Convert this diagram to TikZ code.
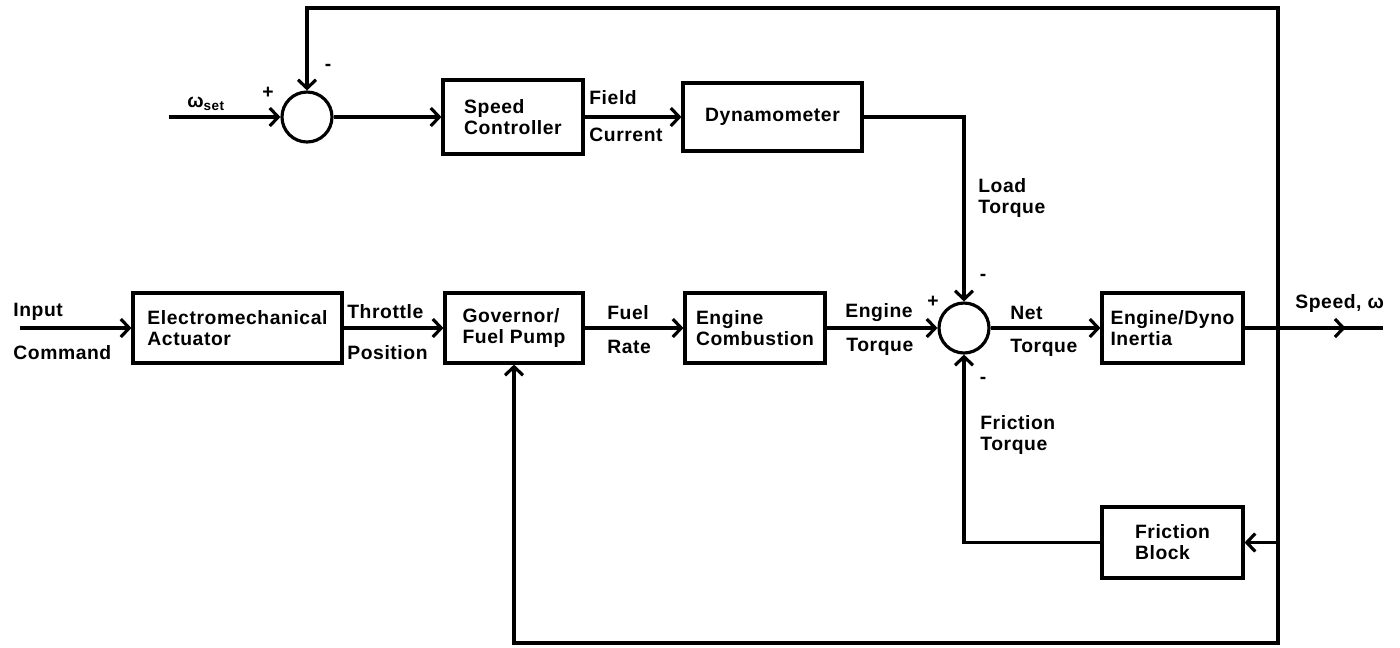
\documentclass[tikz,border=0pt]{standalone}
\usepackage{fontspec}
\setmainfont{Liberation Sans}[LetterSpace=3]
\usetikzlibrary{positioning,arrows.meta,decorations.markings}

\begin{document}
\begin{tikzpicture}[x=0.02cm, y=-0.02cm,
        font=\fontsize{11}{12}\selectfont\bfseries,
        blk/.style={draw, line width=1.8pt, align=left, inner sep=1pt, minimum height=1.4cm},
        sum/.style={draw, circle, line width=1.8pt, minimum size=1cm, inner sep=0pt},
        sig/.style={line width=1.8pt, line join=miter, -{Straight Barb[length=1.7mm, width=3.6mm]}},
        wire/.style={line width=1.8pt},
        midarrow/.style={postaction={decorate, decoration={markings,
            mark=at position 0.73 with {\arrow{Straight Barb[length=1.7mm, width=3.6mm]}}}}},
        lbl/.style={anchor=west, align=left, inner sep=0pt},
        sign/.style={inner sep=0pt}]
      \useasboundingbox (0,0) rectangle (1400,647);
      % upper loop
      \node[sum] (sum1) at (307,117) {};
      \node[blk, minimum width=2.8cm, minimum height=1.48cm] (spd) at (513,117) {Speed\\Controller};
      \node[blk, minimum width=3.58cm, minimum height=1.36cm] (dyno) at (772.5,117) {Dynamometer};
      % main path
      \node[blk, minimum width=4.18cm] (act) at (237.5,328) {Electromechanical\\Actuator};
      \node[blk, minimum width=2.76cm] (gov) at (514,328) {Governor/\\Fuel Pump};
      \node[blk, minimum width=2.8cm] (comb) at (755,328) {Engine\\Combustion};
      \node[sum] (sum2) at (964,328) {};
      \node[blk, minimum width=2.82cm] (inert) at (1172.5,328) {Engine/Dyno\\Inertia};
      \node[blk, minimum width=2.82cm, minimum height=1.42cm] (fric) at (1172.5,542.5) {Friction\\Block};
      % free ends and corners
      \coordinate (wset) at (169,117);
      \coordinate (inp) at (20,328);
      \coordinate (tap) at (1278,328);
      \coordinate (tr) at (1278,8);
      \coordinate (br) at (1278,643);
      \coordinate (out) at (1383,328);
      % signals
      \draw[sig] (wset) -- (sum1);
      \draw[sig] (sum1) -- (spd);
      \draw[sig] (spd) -- (dyno);
      \draw[sig] (dyno) -| (sum2);
      \draw[sig] (inp) -- (act);
      \draw[sig] (act) -- (gov);
      \draw[sig] (gov) -- (comb);
      \draw[sig] (comb) -- (sum2);
      \draw[sig] (sum2) -- (inert);
      \draw[wire, midarrow] (inert) -- (out);
      \draw[sig] (tap) -- (tr) -| (sum1);
      \draw[sig] (tap) -- (br) -| (gov);
      \draw[sig] (tap) |- (fric);
      \draw[sig] (fric) -| (sum2);
      % labels
      \node[lbl] (wsetl) at (187,104) {ω\textsubscript{set}};
      \node[lbl] (fieldl) at (589,98) {Field};
      \node[lbl] (currl) at (589,135) {Current};
      \node[lbl] (loadl) at (978,198) {Load\\Torque};
      \node[lbl] (inpl) at (13,312) {Input};
      \node[lbl] (cmdl) at (13,353) {Command};
      \node[lbl] (thrl) at (347,312) {Throttle};
      \node[lbl] (posl) at (347,353) {Position};
      \node[lbl] (fuell) at (607,313) {Fuel};
      \node[lbl] (ratel) at (607,347) {Rate};
      \node[lbl] (engl) at (845,313) {Engine};
      \node[lbl] (etql) at (846,347) {Torque};
      \node[lbl] (netl) at (1010,313) {Net};
      \node[lbl] (ntql) at (1010,348) {Torque};
      \node[lbl] (speedl) at (1295,303) {Speed, ω};
      \node[lbl] (frtql) at (980,435) {Friction\\Torque};
      \foreach \x/\y/\s [count=\i] in {268/93/+, 328/67/-, 933/302/+, 983/277/-, 983/380/-}
        \node[sign] (sg\i) at (\x,\y) {\s};
    \end{tikzpicture}
\end{document}
